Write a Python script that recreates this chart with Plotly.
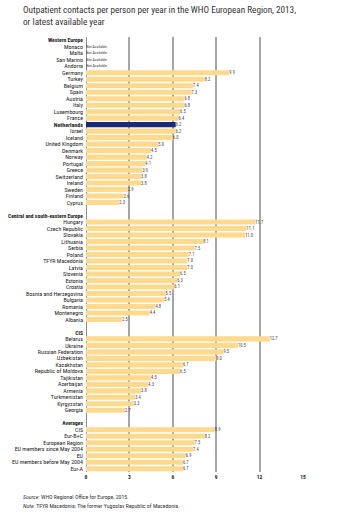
import plotly.graph_objects as go

group_titles = ["Western Europe", "Central and south-eastern Europe", "CIS", "Averages"]

we_names = ["Monaco", "Malta", "San Marino", "Andorra", "Germany", "Turkey", "Belgium", "Spain",
            "Austria", "Italy", "Luxembourg", "France", "Netherlands", "Israel", "Iceland",
            "United Kingdom", "Denmark", "Norway", "Portugal", "Greece", "Switzerland", "Ireland",
            "Sweden", "Finland", "Cyprus"]
we_values = [None, None, None, None, 9.9, 8.2, 7.4, 7.3, 6.8, 6.8, 6.5, 6.4, 6.2, 6.2, 6.0,
             5.0, 4.5, 4.2, 4.1, 3.9, 3.8, 3.8, 2.9, 2.6, 2.3]

ce_names = ["Hungary", "Czech Republic", "Slovakia", "Lithuania", "Serbia", "Poland",
            "TFYR Macedonia", "Latvia", "Slovenia", "Estonia", "Croatia", "Bosnia and Herzegovina",
            "Bulgaria", "Romania", "Montenegro", "Albania"]
ce_values = [11.7, 11.1, 11.0, 8.1, 7.5, 7.1, 7.0, 7.0, 6.5, 6.3, 6.1, 5.5, 5.4, 4.8, 4.4, 2.5]

cis_names = ["Belarus", "Ukraine", "Russian Federation", "Uzbekistan", "Kazakhstan",
             "Republic of Moldova", "Tajikistan", "Azerbaijan", "Armenia", "Turkmenistan",
             "Kyrgyzstan", "Georgia"]
cis_values = [12.7, 10.5, 9.5, 9.0, 6.7, 6.5, 4.5, 4.3, 3.8, 3.4, 3.3, 2.7]

avg_names = ["CIS", "Eur-B+C", "European Region", "EU members since May 2004", "EU",
             "EU members before May 2004", "Eur-A"]
avg_values = [8.9, 8.2, 7.5, 7.4, 6.9, 6.7, 6.7]

highlight = "Netherlands"
x_ticks = [0, 3, 6, 9, 12, 15]

BAR = "#FFD98E"
HIGH = "#1B2A78"
FONT = "Roboto Condensed, DejaVu Sans Condensed, sans-serif"

groups = [(group_titles[0], we_names, we_values),
          (group_titles[1], ce_names, ce_values),
          (group_titles[2], cis_names, cis_values),
          (group_titles[3], avg_names, avg_values)]

tickvals, ticktext = [], []
bar_y, bar_x, bar_c, bar_t = [], [], [], []
na_y = []
row = 0
for gi, (title, names, vals) in enumerate(groups):
    if gi > 0:
        row += 1  # blank spacer row
    tickvals.append(row)
    ticktext.append("<span style='font-size:5.6px'><b>" + title + "</b></span>")
    row += 1
    for n, v in zip(names, vals):
        tickvals.append(row)
        ticktext.append("<b>" + n + "</b>" if n == highlight else n)
        if v is None:
            na_y.append(row)
        else:
            bar_y.append(row)
            bar_x.append(v)
            bar_c.append(HIGH if n == highlight else BAR)
            bar_t.append(f"{v:.1f}")
        row += 1
n_rows = row

L, R, T, B = 86, 36.5, 36.5, 47
PW = 340 - L - R
PH = 519 - T - B


def px_x(x):
    return (x - L) / PW


def px_y(y):
    return (519 - B - y) / PH


fig = go.Figure()
fig.add_trace(go.Bar(
    x=bar_x, y=bar_y, orientation="h", width=0.78,
    marker=dict(color=bar_c, line=dict(width=0)),
    text=bar_t, textposition="outside", cliponaxis=False,
    textfont=dict(size=4.5, color="#444444", family=FONT),
    hoverinfo="skip",
))
fig.add_trace(go.Scatter(
    x=[0] * len(na_y), y=na_y, mode="text", text=["Not Available"] * len(na_y),
    textposition="middle right", textfont=dict(size=4, color="#333333", family=FONT),
    hoverinfo="skip", cliponaxis=False,
))

fig.update_layout(
    width=340, height=519,
    margin=dict(l=L, r=R, t=T, b=B, autoexpand=False),
    paper_bgcolor="white", plot_bgcolor="white",
    showlegend=False,
    font=dict(family=FONT, color="#222222"),
    xaxis=dict(
        range=[0, 15], tickvals=x_ticks, ticktext=[f"<b>{t}</b>" for t in x_ticks],
        showgrid=True, gridcolor="#A6A6A6", gridwidth=1.5,
        zeroline=True, zerolinecolor="#8C8C8C", zerolinewidth=1,
        showline=False, ticks="", automargin=False,
        tickfont=dict(size=5.5, color="#222222", family=FONT),
        fixedrange=True,
    ),
    yaxis=dict(
        range=[n_rows - 0.5, -0.5], tickvals=tickvals, ticktext=ticktext,
        showgrid=False, zeroline=False, showline=False, ticks="",
        ticklabelstandoff=2, automargin=False,
        tickfont=dict(size=6, color="#222222", family=FONT),
        fixedrange=True,
    ),
    annotations=[
        dict(text="Outpatient contacts per person per year in the WHO European Region, 2013,<br>or latest available year",
             x=px_x(21), xref="paper", xanchor="left", align="left",
             y=px_y(1.5), yref="paper", yanchor="top",
             showarrow=False, font=dict(size=9.2, color="#333333", family=FONT)),
        dict(text="<i>Source:</i> WHO Regional Office for Europe, 2015.",
             x=px_x(21), xref="paper", xanchor="left",
             y=px_y(496.7), yref="paper", yanchor="middle",
             showarrow=False, font=dict(size=5.8, color="#333333", family=FONT)),
        dict(text="<i>Note:</i> TFYR Macedonia: The former Yugoslav Republic of Macedonia.",
             x=px_x(21), xref="paper", xanchor="left",
             y=px_y(506), yref="paper", yanchor="middle",
             showarrow=False, font=dict(size=5.8, color="#333333", family=FONT)),
    ],
)

fig.write_html("out.html")
